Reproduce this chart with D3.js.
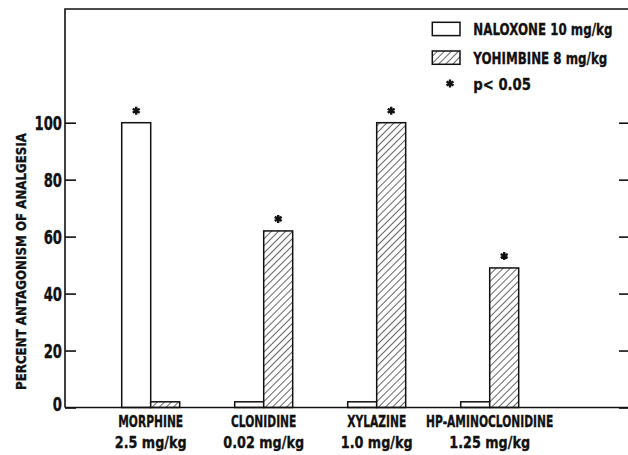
<!DOCTYPE html>
<html>
<head>
<meta charset="utf-8">
<script src="https://cdn.jsdelivr.net/npm/d3@7"></script>
<style>
	body{margin:0;background:#fff;}
	svg text{font-family:"DejaVu Sans",sans-serif;font-weight:bold;fill:#111;stroke:#111;stroke-width:0.35px;}
</style>
</head>
<body>
<div id="chart"></div>
<script>
// data
let drugs = ["MORPHINE", "CLONIDINE", "XYLAZINE", "HP-AMINOCLONIDINE"],
	doses = ["2.5 mg/kg", "0.02 mg/kg", "1.0 mg/kg", "1.25 mg/kg"],
	naloxone = [100, 2, 2, 2],
	yohimbine = [2, 62, 100, 49],
	naloxoneSig = [true, false, false, false],
	yohimbineSig = [false, true, true, true],
	seriesNames = ["NALOXONE 10 mg/kg", "YOHIMBINE 8 mg/kg"],
	sigLabel = "p< 0.05",
	yTicks = [0, 20, 40, 60, 80, 100],
	yTitle = "PERCENT ANTAGONISM OF ANALGESIA";

let W = 628, H = 455,
	mLeft = 65, mRight = 629, mTop = 9, mBottom = 407.5;

let svg = d3.select("#chart").append("svg").attr("width", W).attr("height", H);

// the original type is a tall condensed gothic: squeeze each text sideways
function label(parent, x, y, txt, size, k, anchor){
	return parent.append("text")
		.attr("transform", "translate(" + x + "," + y + ") scale(" + k + ",1)")
		.attr("text-anchor", anchor || "start")
		.style("font-size", size + "px")
		.text(txt);
}

// hatch pattern for yohimbine
let pat = svg.append("defs").append("pattern")
	.attr("id", "hatch")
	.attr("patternUnits", "userSpaceOnUse")
	.attr("width", 5).attr("height", 5)
	.attr("patternTransform", "rotate(45)");
pat.append("rect").attr("width", 5).attr("height", 5).attr("fill", "#fff");
pat.append("line").attr("x1", 0).attr("y1", 0).attr("x2", 0).attr("y2", 5)
	.attr("stroke", "#111").attr("stroke-width", 1.3);

let scaleY = d3.scaleLinear().domain([0, 100]).range([mBottom, 122.7]);
let scaleX = d3.scaleBand().domain(drugs).range([94.2, 546.2]).paddingInner(0.487).paddingOuter(0.2435);
let scaleSub = d3.scaleBand().domain([0, 1]).range([0, scaleX.bandwidth()]);

// frame
svg.append("path")
	.attr("d", "M" + mLeft + "," + mBottom + "V" + mTop + "H" + mRight)
	.attr("fill", "none").attr("stroke", "#111").attr("stroke-width", 1.6);

// left axis, inward ticks
let yAxisL = svg.append("g").attr("transform", "translate(" + mLeft + ",0)")
	.call(d3.axisRight(scaleY).tickValues(yTicks).tickSize(11).tickFormat(""));
yAxisL.select(".domain").remove();
yAxisL.selectAll("line").attr("stroke", "#111").attr("stroke-width", 1.6);

yTicks.forEach(function(t){
	label(svg, mLeft - 3, (t === 0 ? scaleY(t) - 4 : scaleY(t)) + 7.2, t, 20, 0.66, "end");
});

// right axis, inward ticks
let yAxisR = svg.append("g").attr("transform", "translate(" + mRight + ",0)")
	.call(d3.axisLeft(scaleY).tickValues(yTicks).tickSize(10).tickFormat(""));
yAxisR.select(".domain").remove();
yAxisR.selectAll("line").attr("stroke", "#111").attr("stroke-width", 1.6);

// y title
svg.append("text")
	.attr("transform", "translate(25.5," + 261.5 + ") rotate(-90)")
	.attr("text-anchor", "middle")
	.attr("textLength", 257)
	.attr("lengthAdjust", "spacingAndGlyphs")
	.style("font-size", "14.5px")
	.text(yTitle);

// bars
let star = d3.symbol().type(d3.symbolAsterisk).size(45);
let g = svg.append("g");
drugs.forEach(function(d, i){
	[naloxone[i], yohimbine[i]].forEach(function(v, s){
		let x = scaleX(d) + scaleSub(s);
		g.append("rect")
			.attr("x", x)
			.attr("y", scaleY(v))
			.attr("width", scaleSub.bandwidth())
			.attr("height", scaleY(0) - scaleY(v))
			.attr("fill", s === 0 ? "#fff" : "url(#hatch)")
			.attr("stroke", "#111")
			.attr("stroke-width", 1.5);
		let sig = s === 0 ? naloxoneSig[i] : yohimbineSig[i];
		if(sig){
			g.append("path")
				.attr("d", star)
				.attr("transform", "translate(" + (x + scaleSub.bandwidth()/2) + "," + (scaleY(v) - 12) + ")")
				.attr("fill", "none").attr("stroke", "#111").attr("stroke-width", 2.4);
		}
	});
	let cx = scaleX(d) + scaleX.bandwidth()/2;
	label(svg, cx, 427, d, 15.5, 0.69, "middle");
	label(svg, cx, 448, doses[i], 16, 0.8, "middle");
});

// bottom axis line
svg.append("line")
	.attr("x1", mLeft).attr("x2", mRight)
	.attr("y1", mBottom).attr("y2", mBottom)
	.attr("stroke", "#111").attr("stroke-width", 1.6);

// legend
let legend = svg.append("g");
seriesNames.forEach(function(n, i){
	let y = 22.3 + i*28.7;
	legend.append("rect")
		.attr("x", 432.3).attr("y", y)
		.attr("width", 27.7).attr("height", 13.3)
		.attr("fill", i === 0 ? "#fff" : "url(#hatch)")
		.attr("stroke", "#111").attr("stroke-width", 1.5);
	label(legend, 473.3, y + 12.8, n, 16.5, 0.72);
});
legend.append("path")
	.attr("d", star)
	.attr("transform", "translate(450,83.5)")
	.attr("fill", "none").attr("stroke", "#111").attr("stroke-width", 2.4);
label(legend, 473.3, 89.5, sigLabel, 16.5, 0.8);
</script>
</body>
</html>
